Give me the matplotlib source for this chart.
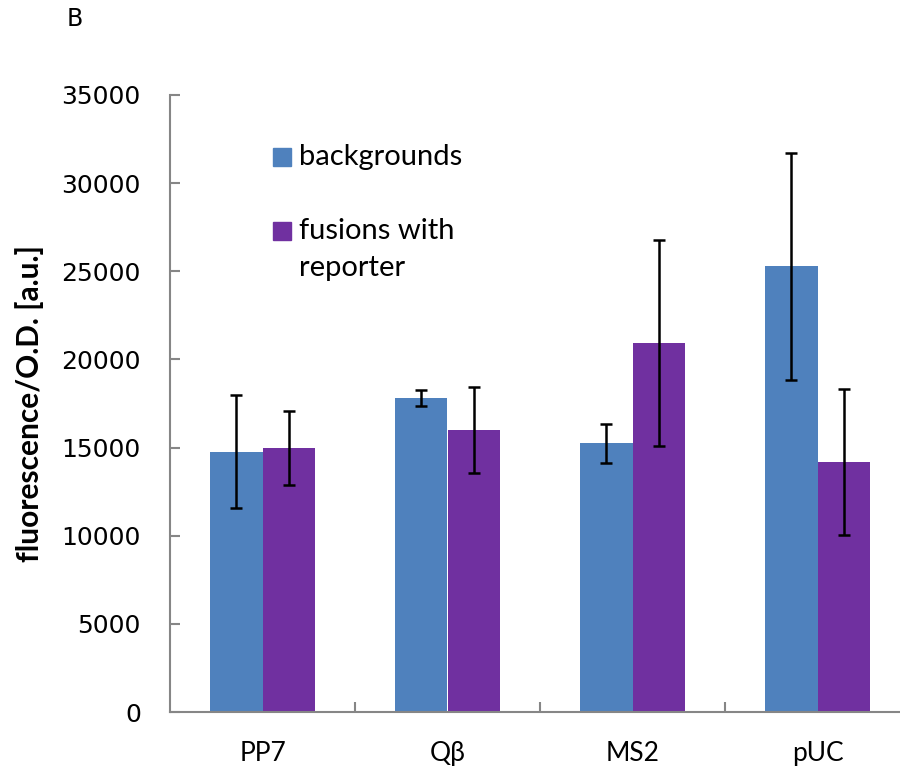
import numpy as np
import matplotlib.pyplot as plt
from matplotlib.patches import Rectangle

# data
categories = ["PP7", "Qβ", "MS2", "pUC"]
backgrounds = [14770, 17810, 15250, 25280]
backgrounds_err = [3200, 470, 1110, 6430]
fusions = [14970, 16010, 20930, 14190]
fusions_err = [2080, 2440, 5820, 4150]
yticks = [0, 5000, 10000, 15000, 20000, 25000, 30000, 35000]

blue = "#4F81BD"
purple = "#7030A0"
grey = "#868686"

W, H = 900, 771
fig = plt.figure(figsize=(9, 7.71), dpi=100)
ax = fig.add_axes([170 / W, 59 / H, 1 - 170 / W, 617 / H])

x = np.arange(len(categories))
w = 0.285
err_kw = dict(ecolor="black", elinewidth=1.8, capsize=4.5, capthick=1.8)

ax.bar(x - w / 2, backgrounds, w, color=blue, yerr=backgrounds_err, error_kw=err_kw)
ax.bar(x + w / 2, fusions, w, color=purple, yerr=fusions_err, error_kw=err_kw)

ax.set_xlim(-0.5, 3.5 - 10 / 185)
ax.set_ylim(0, 35000)

# spines
for s in ["top", "right"]:
    ax.spines[s].set_visible(False)
for s in ["left", "bottom"]:
    ax.spines[s].set_color(grey)
    ax.spines[s].set_linewidth(1.5)

# y axis
ax.set_yticks(yticks)
ax.set_yticklabels([str(v) for v in yticks], fontsize=18, family="DejaVu Sans")
ax.tick_params(axis="y", direction="in", length=7, width=1.5, color=grey, pad=21)

# x axis: labels at centres, tick marks between groups
ax.set_xticks(x)
ax.set_xticklabels(categories, fontsize=19, family="Lato")
ax.tick_params(axis="x", which="major", length=0, pad=21)
ax.set_xticks([0.5, 1.5, 2.5], minor=True)
ax.tick_params(axis="x", which="minor", direction="in", length=7, width=1.5, color=grey)

ax.set_ylabel("fluorescence/O.D. [a.u.]", fontsize=21.5, fontweight="bold", family="Lato")
ax.yaxis.set_label_coords(-0.173, 0.5)

# legend, drawn by hand so the key sits on the first text line
legend_labels = ["backgrounds", "fusions with\nreporter"]
legend_colors = [blue, purple]
key_tops = [148, 222]
for lab, col, top in zip(legend_labels, legend_colors, key_tops):
    fig.patches.append(Rectangle((273 / W, 1 - (top + 18) / H), 18 / W, 18 / H,
                                 transform=fig.transFigure, color=col))
    for i, line in enumerate(lab.split("\n")):
        fig.text(299 / W, 1 - (top + 17 + 37 * i) / H, line, fontsize=21,
                 family="Lato", ha="left", va="baseline")

fig.text(75 / W, 1 - 19 / H, "B", fontsize=17, ha="center", va="center",
         family="DejaVu Sans")

fig.savefig("out.png", dpi=100)
